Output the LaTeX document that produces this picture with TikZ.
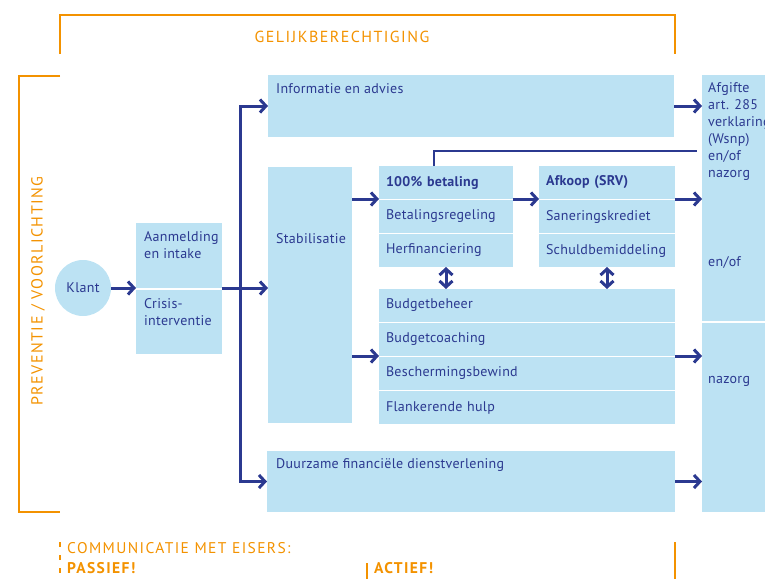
\documentclass[tikz,border=0pt]{standalone}
\usepackage{fontspec}
\setmainfont{PT Sans}
\newfontfamily\boxfont[LetterSpace=2]{PT Sans}
\newfontfamily\kopfont[LetterSpace=9]{PT Sans}
\usetikzlibrary{arrows.meta,calc,positioning}
\definecolor{navy}{RGB}{43,57,144}
\definecolor{lblue}{RGB}{188,226,243}
\definecolor{oranje}{RGB}{243,146,0}

\begin{document}
\begin{tikzpicture}[x=1pt,y=-1pt,
  box/.style={fill=lblue,anchor=north west,inner sep=0pt,outer sep=0pt},
  row/.style={box,minimum height=33pt,inner xsep=7pt,text=navy,align=left,
    font=\boxfont\fontsize{14}{17}\selectfont,text width=#1},
  txt/.style={anchor=west,inner sep=0pt,text=navy,align=left,font=\boxfont\fontsize{14}{17}\selectfont},
  arr/.style={navy,line width=3pt,-{Straight Barb[length=6pt,width=13pt]}},
  dbl/.style={navy,line width=3pt,{Straight Barb[length=6pt,width=13pt]}-{Straight Barb[length=6pt,width=13pt]}},
  link/.style={navy,line width=2.5pt},
  bracket/.style={oranje,line width=2.5pt},
  kop/.style={text=oranje,font=\kopfont\fontsize{16}{18}\selectfont,inner sep=0pt},
  comm/.style={kop,anchor=west,font=\kopfont\fontsize{15.5}{18}\selectfont}]
\useasboundingbox (0,0) rectangle (765,579);
\clip (0,0) rectangle (765,579);

% orange frames
\draw[bracket] (60,54) -- (60,15) -- (675,15) -- (675,54);
\node[kop] (gelijk) at (342,37) {GELIJKBERECHTIGING};
\draw[bracket] (60,76) -- (19,76) -- (19,512) -- (60,512);
\node[kop,rotate=90] (prev) at (38,291) {PREVENTIE / VOORLICHTING};

% client and intake
\node[circle,fill=lblue,minimum size=56pt,inner sep=0pt,text=navy,
  font=\boxfont\fontsize{14}{17}\selectfont] (klant) at (83,288) {Klant};
\node[box,minimum width=86pt,minimum height=65pt] (aanm) at (136,223) {};
\node[box,minimum width=86pt,minimum height=64pt] (crisis) at (136,290) {};
\node[txt] (aanmt) at (144,245.5) {Aanmelding\\en intake};
\node[txt] (crisist) at (144,312.5) {Crisis-\\interventie};

% main column
\node[box,minimum width=406pt,minimum height=62pt] (info) at (268,75) {};
\node[txt] (infot) at (276,89) {Informatie en advies};
\node[box,minimum width=84pt,minimum height=256pt] (stab) at (268,167) {};
\node[txt] (stabt) at (276,239) {Stabilisatie};
\node[box,minimum width=408pt,minimum height=61pt] (duur) at (267,451) {};
\node[txt] (duurt) at (276,465) {Duurzame financiële dienstverlening};

% schuldregeling
\node[row=120pt] (bet1) at (379,166) {\textbf{100\% betaling}};
\node[row=120pt] (bet2) at (379,200) {Betalingsregeling};
\node[row=120pt] (bet3) at (379,234) {Herfinanciering};
\node[row=122pt] (afk1) at (539,166) {\textbf{Afkoop (SRV)}};
\node[row=122pt] (afk2) at (539,200) {Saneringskrediet};
\node[row=122pt] (afk3) at (539,234) {Schuldbemiddeling};

% budget
\node[row=282pt] (bud1) at (379,289) {Budgetbeheer};
\node[row=282pt] (bud2) at (379,323) {Budgetcoaching};
\node[row=282pt] (bud3) at (379,357) {Beschermingsbewind};
\node[row=282pt] (bud4) at (379,391) {Flankerende hulp};

% right column
\node[box,minimum width=80pt,minimum height=246pt] (rc1) at (702,75) {};
\node[box,minimum width=80pt,minimum height=189pt] (rc2) at (702,323) {};
\node[txt] (rc1t) at (708,131.5) {Afgifte\\art. 285\\verklaring\\(Wsnp)\\en/of\\nazorg};
\node[txt] (enof) at (708,262) {en/of};
\node[txt] (nazorg) at (708,381) {nazorg};

% connectors
\coordinate (split) at (240,288);
\coordinate (lineend) at (697,151);
\draw[arr] (klant.east) -- (aanm.south west);
\draw[arr] (aanm.south east) -- (stab.west |- aanm.south east);
\draw[arr] (split) |- (info.west);
\draw[arr] (split) |- (duur.west);
\draw[arr] (stab.east |- bet1.south west) -- (bet1.south west);
\draw[arr] (stab.east |- bud2.south west) -- (bud2.south west);
\draw[arr] (bet1.south east) -- (afk1.south west);
\draw[arr] (afk1.south east) -- (rc1.west |- afk1.south east);
\draw[arr] (info.east) -- (rc1.west |- info.east);
\draw[arr] (bud2.south east) -- (rc2.west |- bud2.south east);
\draw[arr] (duur.east) -- (rc2.west |- duur.east);
\draw[link] ([xshift=55pt]bet1.north west) |- (lineend);
\draw[dbl] (bet3.south) -- (bet3.south |- bud1.north);
\draw[dbl] (afk3.south) -- (afk3.south |- bud1.north);

% communicatie
\draw[oranje,line width=2.5pt,dash pattern=on 5pt off 8pt] (60,542) -- (60,579);
\draw[oranje,line width=2.5pt] (367,563) -- (367,579);
\draw[oranje,line width=2.5pt] (675,542) -- (675,579);
\node[comm] (communicatie) at (67,548) {COMMUNICATIE MET EISERS:};
\node[comm,font=\kopfont\fontsize{15.5}{18}\selectfont\bfseries] (passief) at (67,568) {PASSIEF!};
\node[comm,font=\kopfont\fontsize{15.5}{18}\selectfont\bfseries] (actief) at (374,568) {ACTIEF!};
\end{tikzpicture}
\end{document}
